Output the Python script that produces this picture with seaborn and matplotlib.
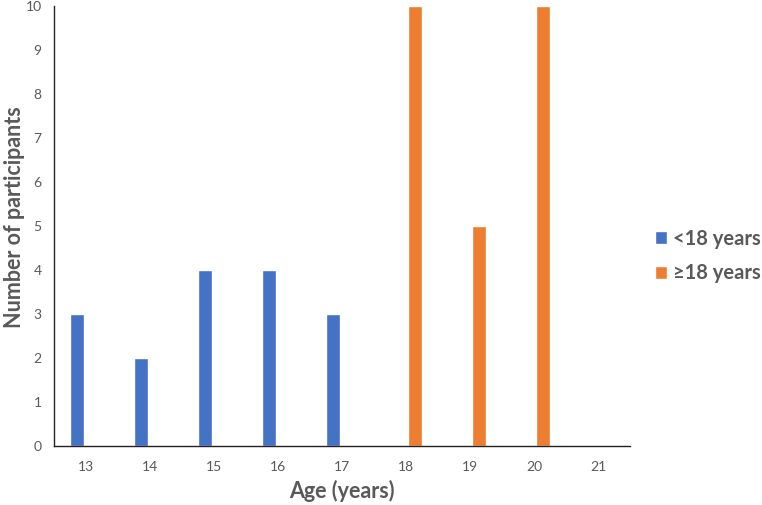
import pandas as pd
import matplotlib.pyplot as plt
import seaborn as sns

# Data
ages = ['13', '14', '15', '16', '17', '18', '19', '20', '21']
participants = [3, 2, 4, 4, 3, 10, 5, 10, 0]
groups = ['<18 years'] * 5 + ['≥18 years'] * 4

df = pd.DataFrame({'age': ages, 'count': participants, 'group': groups})

sns.set_style('white')
plt.rcParams['font.family'] = ['Lato', 'DejaVu Sans']

fig = plt.figure(figsize=(7.62, 5.05), dpi=100)
ax = fig.add_axes([0.071, 0.117, 0.756, 0.871])

sns.barplot(data=df, x='age', y='count', hue='group', order=ages,
            hue_order=['<18 years', '≥18 years'],
            palette=['#4472C4', '#ED7D31'], saturation=1,
            width=0.56, gap=0.21, dodge=True, ax=ax)

ax.set_xlim(-0.5, 8.5)
ax.set_ylim(0, 10)
ax.set_yticks(range(0, 11))
ax.tick_params(axis='both', length=0, colors='#595959', labelsize=10)
ax.tick_params(axis='x', pad=11)
ax.tick_params(axis='y', pad=9)

for side in ['top', 'right']:
    ax.spines[side].set_visible(False)
for side in ['left', 'bottom']:
    ax.spines[side].set_color('#222222')
    ax.spines[side].set_linewidth(1.0)

ax.set_xlabel('Age (years)', fontsize=15.5, fontweight='bold', color='#595959', labelpad=5)
ax.set_ylabel('Number of participants', fontsize=15.5, fontweight='bold', color='#595959')
ax.yaxis.set_label_coords(-0.05, 0.52)

leg = ax.legend(loc='center left', bbox_to_anchor=(0.846, 0.493), bbox_transform=fig.transFigure,
                frameon=False, borderpad=0, handlelength=0.6, handleheight=0.6,
                handletextpad=0.3, labelspacing=0.72, fontsize=14.5)
for t in leg.get_texts():
    t.set_color('#595959')
    t.set_fontweight('bold')

plt.savefig('out.png', dpi=100)
